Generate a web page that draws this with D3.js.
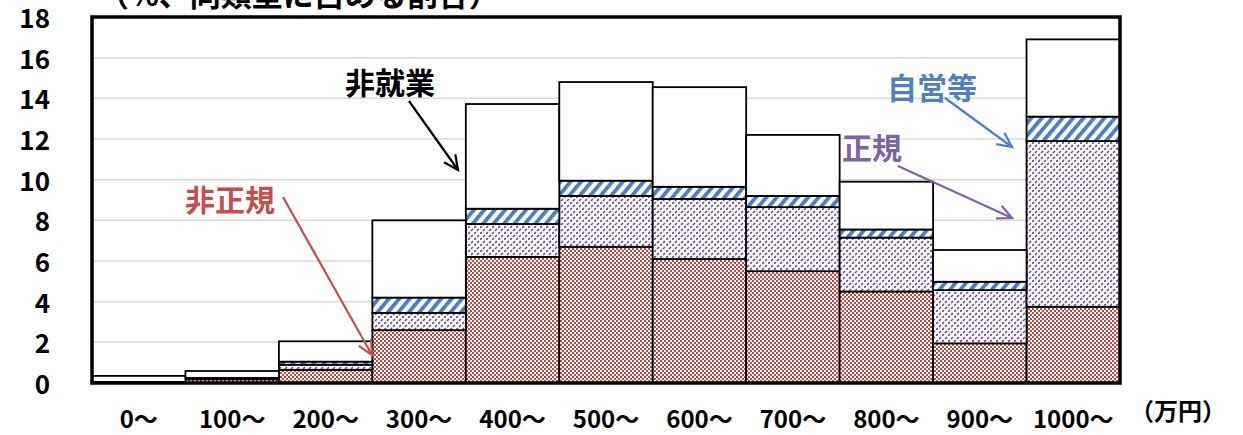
<!DOCTYPE html>
<html>
<head>
<meta charset="utf-8">
<script src="https://cdn.jsdelivr.net/npm/d3@7"></script>
<style>
  body { margin: 0; background: #fff; }
  text { font-family: "Noto Sans CJK JP", sans-serif; font-weight: bold; }
</style>
</head>
<body>
<div id="chart-area"></div>
<script>
// income bands and shares (% of each type)
var categories = ["0～", "100～", "200～", "300～", "400～", "500～", "600～", "700～", "800～", "900～", "1000～"];
var seriesNames = ["非正規", "正規", "自営等", "非就業"];
var hiseiki  = [0.03, 0.18, 0.65, 2.6, 6.2, 6.7, 6.1, 5.5, 4.5, 1.95, 3.75];
var seiki    = [0.02, 0.04, 0.25, 0.85, 1.62, 2.5, 2.95, 3.15, 2.65, 2.62, 8.15];
var jiei     = [0.0, 0.03, 0.15, 0.75, 0.75, 0.75, 0.6, 0.55, 0.4, 0.41, 1.2];
var hishugyo = [0.3, 0.34, 1.0, 3.8, 5.15, 4.85, 4.9, 3.0, 2.35, 1.56, 3.8];
var yTicks = [0, 2, 4, 6, 8, 10, 12, 14, 16, 18];

var svgW = 1243, svgH = 435;
var plotL = 92, plotR = 1120, plotT = 17, plotB = 383;

var svg = d3.select("#chart-area").append("svg")
    .attr("width", svgW)
    .attr("height", svgH);

// patterns
var defs = svg.append("defs");

// red checkerboard
var p1 = defs.append("pattern")
    .attr("id", "pat-hiseiki")
    .attr("patternUnits", "userSpaceOnUse")
    .attr("width", 4).attr("height", 4);
p1.append("rect").attr("width", 4).attr("height", 4).attr("fill", "#fff");
p1.append("rect").attr("x", 0).attr("y", 0).attr("width", 2).attr("height", 2).attr("fill", "#bf4b48");
p1.append("rect").attr("x", 2).attr("y", 2).attr("width", 2).attr("height", 2).attr("fill", "#bf4b48");

// purple dotted diagonals ("/")
var p2 = defs.append("pattern")
    .attr("id", "pat-seiki")
    .attr("patternUnits", "userSpaceOnUse")
    .attr("width", 6).attr("height", 6);
p2.append("rect").attr("width", 6).attr("height", 6).attr("fill", "#fff");
p2.append("line")
    .attr("x1", 0).attr("y1", 6).attr("x2", 6).attr("y2", 0)
    .attr("stroke", "#6a4a96")
    .attr("stroke-width", 1.6)
    .attr("stroke-dasharray", "2.8,1.44");

// blue wide diagonals
var p3 = defs.append("pattern")
    .attr("id", "pat-jiei")
    .attr("patternUnits", "userSpaceOnUse")
    .attr("width", 8).attr("height", 8)
    .attr("patternTransform", "rotate(40)");
p3.append("rect").attr("width", 8).attr("height", 8).attr("fill", "#fff");
p3.append("rect").attr("x", 0).attr("y", 0).attr("width", 3.8).attr("height", 8).attr("fill", "#4a7dbf");

var fills = ["url(#pat-hiseiki)", "url(#pat-seiki)", "url(#pat-jiei)", "#fff"];

// scales
var x = d3.scaleBand()
    .domain(categories)
    .range([plotL, plotR])
    .padding(0);

var y = d3.scaleLinear()
    .domain([0, 18])
    .range([plotB, plotT]);

// gridlines
svg.append("g")
    .selectAll("line")
    .data(yTicks.filter(function(d){ return d > 0 && d < 18; }))
    .enter().append("line")
        .attr("x1", plotL).attr("x2", plotR)
        .attr("y1", function(d){ return y(d); })
        .attr("y2", function(d){ return y(d); })
        .attr("stroke", "#d9d9d9")
        .attr("stroke-width", 1.5);

// stacked data
var table = categories.map(function(c, i){
    return { cat: c, 非正規: hiseiki[i], 正規: seiki[i], 自営等: jiei[i], 非就業: hishugyo[i] };
});
var stack = d3.stack().keys(seriesNames)(table);

var layers = svg.append("g").selectAll("g")
    .data(stack)
    .enter().append("g")
        .attr("fill", function(d, i){ return fills[i]; });

layers.selectAll("rect")
    .data(function(d){ return d; })
    .enter().append("rect")
        .attr("x", function(d){ return x(d.data.cat); })
        .attr("width", x.bandwidth())
        .attr("y", function(d){ return y(d[1]); })
        .attr("height", function(d){ return y(d[0]) - y(d[1]); })
        .attr("stroke", "#000")
        .attr("stroke-width", 1.8);

// frame
svg.append("rect")
    .attr("x", plotL).attr("y", plotT)
    .attr("width", plotR - plotL)
    .attr("height", plotB - plotT)
    .attr("fill", "none")
    .attr("stroke", "#000")
    .attr("stroke-width", 3.5);

// y axis
var yAxisCall = d3.axisLeft(y)
    .tickValues(yTicks)
    .tickSize(0)
    .tickPadding(0);
var yAxis = svg.append("g")
    .attr("transform", "translate(50, 1)")
    .call(yAxisCall);
yAxis.select(".domain").remove();
yAxis.selectAll("text")
    .attr("font-size", "26px")
    .attr("font-family", "\"Noto Sans CJK JP\", sans-serif")
    .attr("font-weight", "bold")
    .attr("fill", "#000")
    .attr("dy", "0.36em");

// x axis
var xAxisCall = d3.axisBottom(x).tickSize(0).tickPadding(0);
var xAxis = svg.append("g")
    .attr("transform", "translate(0, " + 419 + ")")
    .call(xAxisCall);
xAxis.select(".domain").remove();
xAxis.selectAll("text")
    .attr("font-size", "24px")
    .attr("font-family", "\"Noto Sans CJK JP\", sans-serif")
    .attr("font-weight", "bold")
    .attr("fill", "#000")
    .attr("dy", "0.36em");

svg.append("text")
    .attr("x", 1178).attr("y", 420)
    .attr("text-anchor", "middle")
    .attr("font-size", "24px")
    .text("（万円）");

// unit label (cut off at top)
svg.append("text")
    .attr("x", 98).attr("y", 6)
    .attr("font-size", "31px")
    .text("（%、同類型に占める割合）");

// annotations
var annotations = [
    { label: "非就業", color: "#000",    tx: 390, ty: 83,  x1: 409, y1: 101, x2: 458, y2: 170 },
    { label: "非正規", color: "#c0504d", tx: 230, ty: 200, x1: 283, y1: 197, x2: 372, y2: 355 },
    { label: "自営等", color: "#4f81bd", tx: 932, ty: 88,  x1: 945, y1: 98,  x2: 1012, y2: 147 },
    { label: "正規",   color: "#8064a2", tx: 872, ty: 148, x1: 898, y1: 166, x2: 1012, y2: 218 }
];

annotations.forEach(function(a){
    svg.append("text")
        .attr("x", a.tx).attr("y", a.ty)
        .attr("text-anchor", "middle")
        .attr("dy", "0.35em")
        .attr("font-size", "30px")
        .attr("fill", a.color)
        .text(a.label);

    svg.append("line")
        .attr("x1", a.x1).attr("y1", a.y1)
        .attr("x2", a.x2).attr("y2", a.y2)
        .attr("stroke", a.color)
        .attr("stroke-width", 2.2);

    // open arrow head
    var ang = Math.atan2(a.y2 - a.y1, a.x2 - a.x1);
    var len = 16, spread = 0.45;
    var p = [
        [a.x2 - len * Math.cos(ang - spread), a.y2 - len * Math.sin(ang - spread)],
        [a.x2, a.y2],
        [a.x2 - len * Math.cos(ang + spread), a.y2 - len * Math.sin(ang + spread)]
    ];
    svg.append("path")
        .attr("d", d3.line()(p))
        .attr("fill", "none")
        .attr("stroke", a.color)
        .attr("stroke-width", 2.2);
});
</script>
</body>
</html>
